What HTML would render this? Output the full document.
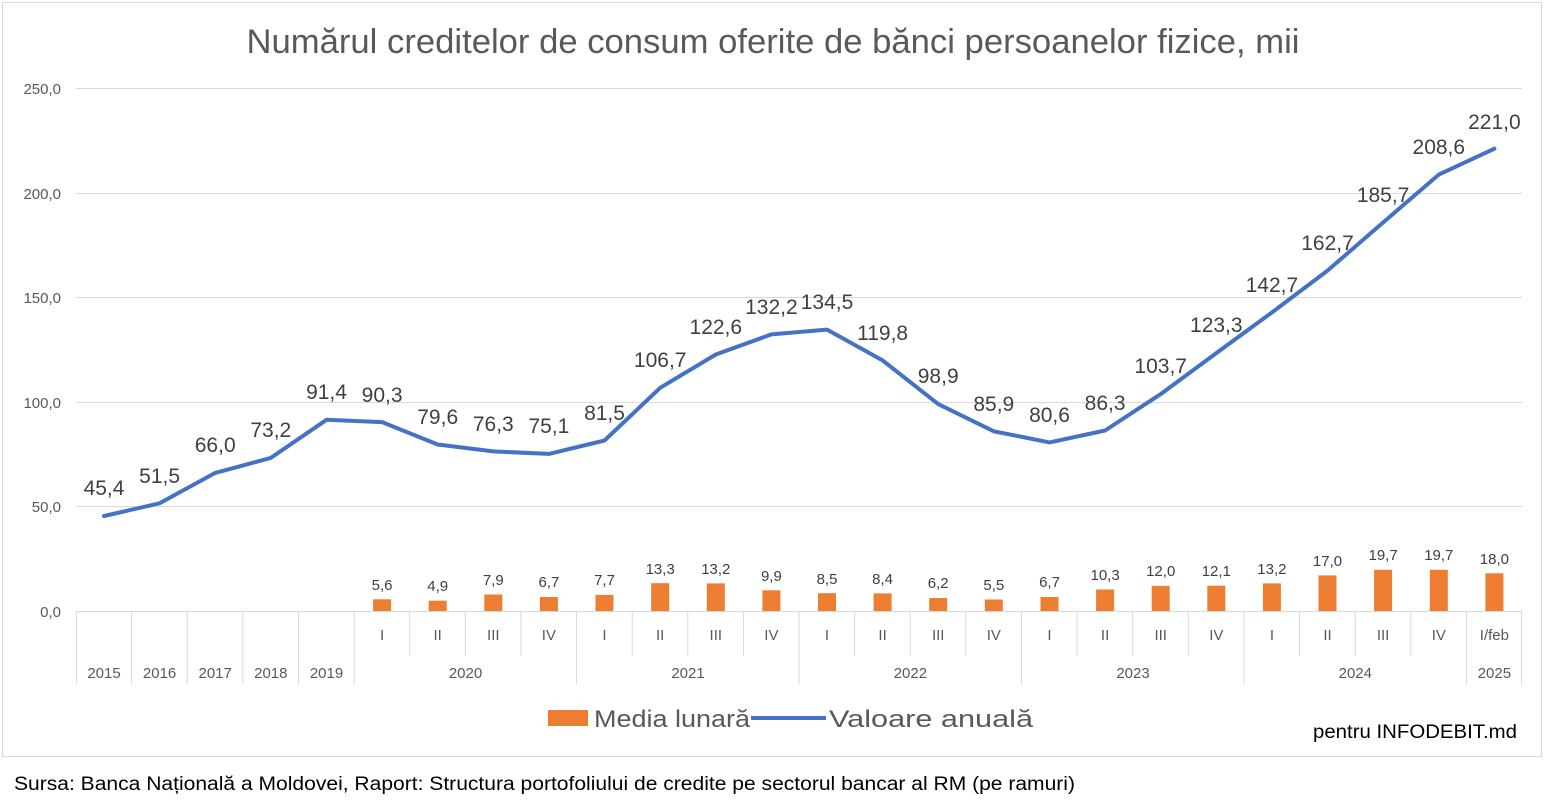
<!DOCTYPE html>
<html><head><meta charset="utf-8"><style>
body{margin:0;background:#fff;}
svg{display:block;font-family:"Liberation Sans",sans-serif;}
</style></head><body>
<svg width="1546" height="805" xmlns="http://www.w3.org/2000/svg">
<rect x="2.5" y="2.5" width="1539" height="754" fill="#fff" stroke="#d9d9d9"/>
<text x="773" y="53" text-anchor="middle" font-size="34" fill="#595959" textLength="1053" lengthAdjust="spacingAndGlyphs">Numărul creditelor de consum oferite de bănci persoanelor fizice, mii</text>
<g stroke="#d9d9d9" stroke-width="1">
<line x1="76" x2="1522" y1="88.5" y2="88.5"/><line x1="76" x2="1522" y1="193.5" y2="193.5"/>
<line x1="76" x2="1522" y1="297.5" y2="297.5"/><line x1="76" x2="1522" y1="402.5" y2="402.5"/>
<line x1="76" x2="1522" y1="506.5" y2="506.5"/><line x1="76" x2="1522" y1="611.5" y2="611.5"/>
</g>
<g font-size="15" fill="#595959" text-anchor="end">
<text x="61" y="94">250,0</text><text x="61" y="199">200,0</text><text x="61" y="303">150,0</text>
<text x="61" y="408">100,0</text><text x="61" y="512">50,0</text><text x="61" y="617">0,0</text>
</g>
<g stroke="#d9d9d9">
<line x1="76.5" x2="76.5" y1="611" y2="684"/><line x1="131.6" x2="131.6" y1="611" y2="684"/>
<line x1="187.2" x2="187.2" y1="611" y2="684"/><line x1="242.8" x2="242.8" y1="611" y2="684"/>
<line x1="298.5" x2="298.5" y1="611" y2="684"/><line x1="354.1" x2="354.1" y1="611" y2="684"/>
<line x1="409.7" x2="409.7" y1="611" y2="656"/><line x1="465.3" x2="465.3" y1="611" y2="656"/>
<line x1="520.9" x2="520.9" y1="611" y2="656"/><line x1="576.5" x2="576.5" y1="611" y2="684"/>
<line x1="632.2" x2="632.2" y1="611" y2="656"/><line x1="687.8" x2="687.8" y1="611" y2="656"/>
<line x1="743.4" x2="743.4" y1="611" y2="656"/><line x1="799" x2="799" y1="611" y2="684"/>
<line x1="854.6" x2="854.6" y1="611" y2="656"/><line x1="910.2" x2="910.2" y1="611" y2="656"/>
<line x1="965.8" x2="965.8" y1="611" y2="656"/><line x1="1021.5" x2="1021.5" y1="611" y2="684"/>
<line x1="1077.1" x2="1077.1" y1="611" y2="656"/><line x1="1132.7" x2="1132.7" y1="611" y2="656"/>
<line x1="1188.3" x2="1188.3" y1="611" y2="656"/><line x1="1243.9" x2="1243.9" y1="611" y2="684"/>
<line x1="1299.5" x2="1299.5" y1="611" y2="656"/><line x1="1355.1" x2="1355.1" y1="611" y2="656"/>
<line x1="1410.8" x2="1410.8" y1="611" y2="656"/><line x1="1466.4" x2="1466.4" y1="611" y2="684"/>
<line x1="1521.5" x2="1521.5" y1="611" y2="684"/>
</g>
<g font-size="15" fill="#595959" text-anchor="middle">
<text x="382.1" y="640">I</text><text x="437.7" y="640">II</text><text x="493.3" y="640">III</text><text x="548.9" y="640">IV</text>
<text x="604.5" y="640">I</text><text x="660.2" y="640">II</text><text x="715.8" y="640">III</text><text x="771.4" y="640">IV</text>
<text x="827" y="640">I</text><text x="882.6" y="640">II</text><text x="938.2" y="640">III</text><text x="993.8" y="640">IV</text>
<text x="1049.5" y="640">I</text><text x="1105.1" y="640">II</text><text x="1160.7" y="640">III</text><text x="1216.3" y="640">IV</text>
<text x="1271.9" y="640">I</text><text x="1327.5" y="640">II</text><text x="1383.1" y="640">III</text><text x="1438.8" y="640">IV</text>
<text x="1494.4" y="640">I/feb</text>
<text x="104" y="678">2015</text><text x="159.6" y="678">2016</text><text x="215.2" y="678">2017</text>
<text x="270.8" y="678">2018</text><text x="326.5" y="678">2019</text>
<text x="465.5" y="678">2020</text><text x="688" y="678">2021</text><text x="910.4" y="678">2022</text>
<text x="1133" y="678">2023</text><text x="1355.3" y="678">2024</text><text x="1494.4" y="678">2025</text>
</g>
<g fill="#ed7d31">
<rect x="373.1" y="599.3" width="18" height="11.7"/><rect x="428.7" y="600.7" width="18" height="10.3"/>
<rect x="484.3" y="594.5" width="18" height="16.5"/><rect x="539.9" y="597" width="18" height="14"/>
<rect x="595.5" y="594.9" width="18" height="16.1"/><rect x="651.2" y="583.2" width="18" height="27.8"/>
<rect x="706.8" y="583.4" width="18" height="27.6"/><rect x="762.4" y="590.3" width="18" height="20.7"/>
<rect x="818" y="593.2" width="18" height="17.8"/><rect x="873.6" y="593.4" width="18" height="17.6"/>
<rect x="929.2" y="598" width="18" height="13"/><rect x="984.8" y="599.5" width="18" height="11.5"/>
<rect x="1040.5" y="597" width="18" height="14"/><rect x="1096.1" y="589.5" width="18" height="21.5"/>
<rect x="1151.7" y="585.9" width="18" height="25.1"/><rect x="1207.3" y="585.7" width="18" height="25.3"/>
<rect x="1262.9" y="583.4" width="18" height="27.6"/><rect x="1318.5" y="575.4" width="18" height="35.6"/>
<rect x="1374.1" y="569.8" width="18" height="41.2"/><rect x="1429.8" y="569.8" width="18" height="41.2"/>
<rect x="1485.4" y="573.3" width="18" height="37.7"/>
</g>
<g font-size="15" fill="#404040" text-anchor="middle">
<text x="382.1" y="590">5,6</text><text x="437.7" y="591">4,9</text><text x="493.3" y="585">7,9</text><text x="548.9" y="587">6,7</text>
<text x="604.5" y="585">7,7</text><text x="660.2" y="574">13,3</text><text x="715.8" y="574">13,2</text><text x="771.4" y="581">9,9</text>
<text x="827" y="584">8,5</text><text x="882.6" y="584">8,4</text><text x="938.2" y="588">6,2</text><text x="993.8" y="590">5,5</text>
<text x="1049.5" y="587">6,7</text><text x="1105.1" y="580">10,3</text><text x="1160.7" y="576">12,0</text><text x="1216.3" y="576">12,1</text>
<text x="1271.9" y="574">13,2</text><text x="1327.5" y="566">17,0</text><text x="1383.1" y="560">19,7</text><text x="1438.8" y="560">19,7</text>
<text x="1494.4" y="564">18,0</text>
</g>
<polyline fill="none" stroke="#4472c4" stroke-width="4" stroke-linejoin="round" stroke-linecap="round" points="104,516 159.6,503.3 215.2,472.9 270.8,457.9 326.5,419.8 382.1,422.1 437.7,444.5 493.3,451.4 548.9,453.9 604.5,440.5 660.2,387.8 715.8,354.5 771.4,334.4 827,329.6 882.6,360.4 938.2,404.1 993.8,431.3 1049.5,442.4 1105.1,430.5 1160.7,394.1 1216.3,353.1 1271.9,312.5 1327.5,270.6 1383.1,222.5 1438.8,174.6 1494.4,148.7"/>
<g font-size="21" fill="#404040" text-anchor="middle">
<text x="104" y="495">45,4</text><text x="159.6" y="483">51,5</text><text x="215.2" y="452">66,0</text><text x="270.8" y="437">73,2</text>
<text x="326.5" y="399">91,4</text><text x="382.1" y="402">90,3</text><text x="437.7" y="424">79,6</text><text x="493.3" y="431">76,3</text>
<text x="548.9" y="433">75,1</text><text x="604.5" y="420">81,5</text><text x="660.2" y="367">106,7</text><text x="715.8" y="334">122,6</text>
<text x="771.4" y="314">132,2</text><text x="827" y="309">134,5</text><text x="882.6" y="340">119,8</text><text x="938.2" y="383">98,9</text>
<text x="993.8" y="411">85,9</text><text x="1049.5" y="422">80,6</text><text x="1105.1" y="410">86,3</text><text x="1160.7" y="373">103,7</text>
<text x="1216.3" y="332">123,3</text><text x="1271.9" y="292">142,7</text><text x="1327.5" y="250">162,7</text><text x="1383.1" y="202">185,7</text>
<text x="1438.8" y="154">208,6</text><text x="1494.4" y="129">221,0</text>
</g>
<rect x="548" y="710" width="40" height="16" fill="#ed7d31"/>
<text x="594" y="727" font-size="24" fill="#595959" textLength="156" lengthAdjust="spacingAndGlyphs">Media lunară</text>
<line x1="751" x2="826" y1="718" y2="718" stroke="#4472c4" stroke-width="4"/>
<text x="829" y="727" font-size="24" fill="#595959" textLength="204" lengthAdjust="spacingAndGlyphs">Valoare anuală</text>
<text x="1517" y="738" font-size="19" fill="#000" text-anchor="end" textLength="204" lengthAdjust="spacingAndGlyphs">pentru INFODEBIT.md</text>
<text x="14" y="790" font-size="19" fill="#000" textLength="1061" lengthAdjust="spacingAndGlyphs">Sursa: Banca Națională a Moldovei, Raport: Structura portofoliului de credite pe sectorul bancar al RM (pe ramuri)</text>
</svg>
</body></html>
